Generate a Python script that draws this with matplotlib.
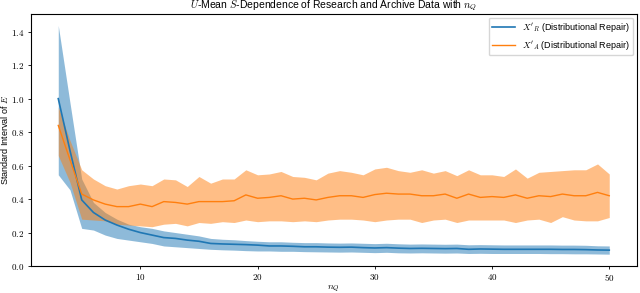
import matplotlib
matplotlib.use('Agg')
import matplotlib.pyplot as plt
from matplotlib.ticker import FuncFormatter

n_q = list(range(3, 51))

# X'_R (Distributional Repair)
r_mean = [1.00, 0.69, 0.395, 0.32, 0.275, 0.245, 0.22, 0.20, 0.185, 0.17, 0.165, 0.155,
          0.148, 0.135, 0.132, 0.13, 0.128, 0.125, 0.12, 0.12, 0.118, 0.115, 0.115, 0.113,
          0.112, 0.113, 0.11, 0.108, 0.11, 0.107, 0.105, 0.106, 0.105, 0.104, 0.105, 0.10,
          0.102, 0.101, 0.10, 0.10, 0.10, 0.10, 0.10, 0.099, 0.099, 0.098, 0.096, 0.095]
r_low = [0.545, 0.455, 0.225, 0.215, 0.185, 0.165, 0.155, 0.145, 0.135, 0.12, 0.115, 0.11,
         0.105, 0.10, 0.097, 0.095, 0.092, 0.09, 0.09, 0.088, 0.088, 0.086, 0.085, 0.084,
         0.083, 0.084, 0.082, 0.080, 0.082, 0.079, 0.078, 0.079, 0.078, 0.077, 0.078, 0.075,
         0.076, 0.075, 0.075, 0.075, 0.075, 0.075, 0.074, 0.074, 0.073, 0.073, 0.072, 0.071]
r_high = [1.437, 0.975, 0.52, 0.38, 0.32, 0.28, 0.25, 0.235, 0.225, 0.21, 0.2, 0.19,
          0.18, 0.165, 0.16, 0.157, 0.152, 0.148, 0.145, 0.145, 0.142, 0.14, 0.14, 0.138,
          0.137, 0.138, 0.136, 0.134, 0.136, 0.133, 0.131, 0.132, 0.131, 0.13, 0.131, 0.127,
          0.128, 0.127, 0.126, 0.126, 0.126, 0.126, 0.126, 0.125, 0.125, 0.124, 0.121, 0.12]

# X'_A (Distributional Repair)
a_mean = [0.84, 0.635, 0.43, 0.395, 0.37, 0.355, 0.355, 0.37, 0.355, 0.385, 0.38, 0.37,
          0.385, 0.385, 0.385, 0.39, 0.425, 0.405, 0.41, 0.42, 0.40, 0.405, 0.395, 0.41,
          0.42, 0.42, 0.41, 0.427, 0.435, 0.43, 0.43, 0.42, 0.42, 0.43, 0.405, 0.43,
          0.41, 0.415, 0.41, 0.425, 0.405, 0.42, 0.415, 0.43, 0.42, 0.42, 0.44, 0.42]
a_low = [0.66, 0.50, 0.28, 0.275, 0.27, 0.25, 0.245, 0.24, 0.235, 0.25, 0.255, 0.24,
         0.26, 0.255, 0.265, 0.26, 0.275, 0.265, 0.27, 0.27, 0.265, 0.27, 0.265, 0.275,
         0.28, 0.28, 0.275, 0.265, 0.275, 0.28, 0.28, 0.26, 0.275, 0.28, 0.26, 0.275,
         0.275, 0.275, 0.275, 0.26, 0.275, 0.28, 0.26, 0.295, 0.275, 0.27, 0.27, 0.29]
a_high = [0.95, 0.75, 0.575, 0.52, 0.48, 0.46, 0.48, 0.49, 0.48, 0.52, 0.515, 0.475,
          0.535, 0.495, 0.52, 0.52, 0.575, 0.545, 0.55, 0.565, 0.535, 0.53, 0.515, 0.555,
          0.57, 0.56, 0.545, 0.58, 0.59, 0.57, 0.56, 0.575, 0.555, 0.57, 0.54, 0.575,
          0.545, 0.545, 0.535, 0.58, 0.525, 0.56, 0.565, 0.57, 0.575, 0.575, 0.61, 0.55]

plt.rcParams['font.family'] = ['Liberation Sans', 'DejaVu Sans']
plt.rcParams['mathtext.fontset'] = 'cm'

fig = plt.figure(figsize=(6.4, 2.93), dpi=100)
ax = fig.add_axes([0.048, 0.092, 0.947, 0.86])

ax.plot(n_q, r_mean, color='C0', linewidth=1.2, label="$X'_R$ (Distributional Repair)")
ax.fill_between(n_q, r_low, r_high, color='C0', alpha=0.5, linewidth=0)
ax.plot(n_q, a_mean, color='C1', linewidth=1.0, label="$X'_A$ (Distributional Repair)")
ax.fill_between(n_q, a_low, a_high, color='C1', alpha=0.5, linewidth=0)

ax.set_ylim(bottom=0)
ax.set_xticks([10, 20, 30, 40, 50])
ax.set_yticks([0.0, 0.2, 0.4, 0.6, 0.8, 1.0, 1.2, 1.4])
ax.xaxis.set_major_formatter(FuncFormatter(lambda v, p: '$%d$' % v))
ax.yaxis.set_major_formatter(FuncFormatter(lambda v, p: '$%.1f$' % v))
ax.tick_params(labelsize=6.5, length=2.5, width=0.6, pad=2)
for s in ax.spines.values():
    s.set_linewidth(0.8)

ax.set_title('$U$-Mean $S$-Dependence of Research and Archive Data with $n_Q$', fontsize=7.5, pad=4)
ax.set_xlabel('$n_Q$', fontsize=7, labelpad=0)
ax.set_ylabel('Standard Interval of $E$', fontsize=6.5, labelpad=1)
ax.legend(loc='upper right', fontsize=6.5, handlelength=2.5, borderaxespad=0.4)

fig.savefig('out.png', dpi=100)
